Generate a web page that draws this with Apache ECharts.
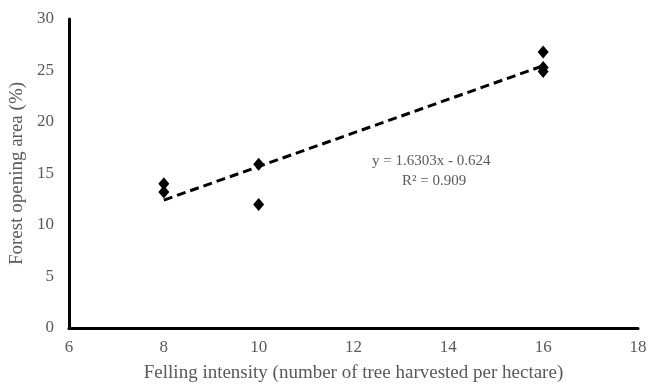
<!DOCTYPE html>
<html>
<head>
<meta charset="utf-8">
<script src="https://cdn.jsdelivr.net/npm/echarts@6/dist/echarts.min.js"></script>
<style>
  html, body { margin: 0; padding: 0; background: #fff; }
  #chart { width: 648px; height: 385px; }
</style>
</head>
<body>
<div id="chart"></div>
<script>
// felling intensity (trees/ha) and forest opening area (%)
const fellingIntensity = [8, 8, 10, 10, 16, 16, 16];
const openingArea = [14.0, 13.2, 15.9, 12.0, 26.8, 25.3, 24.9];
// linear trend shown in the figure
const slope = 1.6303;
const intercept = -0.624;
const trendX = [8, 16];

const points = fellingIntensity.map((x, i) => [x, openingArea[i]]);
const trend = trendX.map(x => [x, slope * x + intercept]);

const font = '"Liberation Serif", "Times New Roman", serif';
const chart = echarts.init(document.getElementById('chart'));
chart.setOption({
  animation: false,
  grid: { left: 69, right: 10, top: 19, bottom: 57, outerBoundsMode: 'none' },
  xAxis: {
    type: 'value',
    min: 6, max: 18, interval: 2,
    name: 'Felling intensity (number of tree harvested per hectare)',
    nameLocation: 'middle',
    nameGap: 36,
    nameTextStyle: { fontFamily: font, fontSize: 19, color: '#595959' },
    axisLine: { lineStyle: { color: '#000', width: 3 } },
    axisTick: { show: false },
    splitLine: { show: false },
    axisLabel: { fontFamily: font, fontSize: 17, color: '#595959', margin: 11 }
  },
  yAxis: {
    type: 'value',
    min: 0, max: 30, interval: 5,
    name: 'Forest opening area (%)',
    nameLocation: 'middle',
    nameGap: 38,
    nameTextStyle: { fontFamily: font, fontSize: 19, color: '#595959' },
    axisLine: { show: true, lineStyle: { color: '#000', width: 3 } },
    axisTick: { show: false },
    splitLine: { show: false },
    axisLabel: { fontFamily: font, fontSize: 17, color: '#595959', margin: 15 }
  },
  series: [
    {
      type: 'line',
      data: trend,
      symbol: 'none',
      lineStyle: { color: '#000', width: 3, type: [9, 5] },
      z: 1
    },
    {
      type: 'scatter',
      data: points,
      symbol: 'diamond',
      symbolSize: [11, 13],
      itemStyle: { color: '#000', opacity: 1 },
      z: 2
    }
  ],
  graphic: [
    {
      type: 'text', left: 372, top: 154,
      style: { text: 'y = 1.6303x - 0.624', font: '15px ' + font, fill: '#595959' }
    },
    {
      type: 'text', left: 402, top: 174,
      style: { text: 'R² = 0.909', font: '15px ' + font, fill: '#595959' }
    }
  ]
});
</script>
</body>
</html>
